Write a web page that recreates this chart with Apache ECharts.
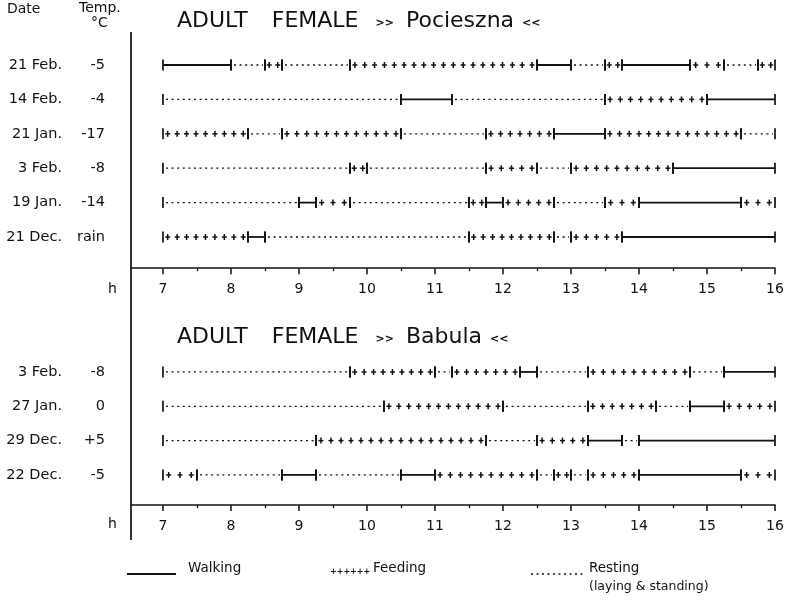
<!DOCTYPE html>
<html><head><meta charset="utf-8">
<script src="https://cdn.jsdelivr.net/npm/echarts@6/dist/echarts.min.js"></script>
<style>html,body{margin:0;padding:0;background:#fff}#c{width:788px;height:602px}</style>
</head><body><div id="c"></div>
<script>
// ---- data ----
const hourTicks = [7, 8, 9, 10, 11, 12, 13, 14, 15, 16];
const halfHourTicks = [7.5, 8.5, 9.5, 10.5, 11.5, 12.5, 13.5, 14.5, 15.5];

// activity codes: W = walking, F = feeding, R = resting
const pociesznaDates = ['21 Feb.', '14 Feb.', '21 Jan.', '3 Feb.', '19 Jan.', '21 Dec.'];
const pociesznaTemps = ['-5', '-4', '-17', '-8', '-14', 'rain'];
const pociesznaBreaks = [
  [7, 8, 8.5, 8.75, 9.75, 12.5, 13, 13.5, 13.75, 14.75, 15.25, 15.75, 16],
  [7, 10.5, 11.25, 13.5, 15, 16],
  [7, 8.25, 8.75, 10.5, 11.75, 12.75, 13.5, 15.5, 16],
  [7, 9.75, 10, 11.75, 12.5, 13, 14.5, 16],
  [7, 9, 9.25, 9.75, 11.5, 11.75, 12, 12.75, 13.5, 14, 15.5, 16],
  [7, 8.25, 8.5, 11.5, 12.75, 13, 13.75, 16]
];
const pociesznaActivities = ['WRFRFWRFWFRF', 'RWRFW', 'FRFRFWFR', 'RFRFRFW', 'RWFRFWFRFWF', 'FWRFRFW'];

const babulaDates = ['3 Feb.', '27 Jan.', '29 Dec.', '22 Dec.'];
const babulaTemps = ['-8', '0', '+5', '-5'];
const babulaBreaks = [
  [7, 9.75, 11, 11.25, 12.25, 12.5, 13.25, 14.75, 15.25, 16],
  [7, 10.25, 12, 13.25, 14.25, 14.75, 15.25, 16],
  [7, 9.25, 11.75, 12.5, 13.25, 13.75, 14, 16],
  [7, 7.5, 8.75, 9.25, 10.5, 11, 12.5, 12.75, 13, 13.25, 14, 15.5, 16]
];
const babulaActivities = ['RFRFWRFRW', 'RFRFRWF', 'RFRFWRW', 'FRWRWFRFRFWF'];

// ---- build ----
const actCode = { W: 0, F: 1, R: 2 };
function toSegments(breaks, acts) {
  const out = [];
  breaks.forEach((b, row) => {
    for (let k = 0; k < b.length - 1; k++) out.push([b[k], b[k + 1], row, actCode[acts[row][k]]]);
  });
  return out;
}
const INK = '#111111';
const FONT = 'DejaVu Sans';

function renderSeg(params, api) {
  const s = api.coord([api.value(0), api.value(2)]);
  const e = api.coord([api.value(1), api.value(2)]);
  const act = api.value(3);
  const y = s[1], x1 = s[0], x2 = e[0];
  const ch = [];
  if (act === 0) {
    ch.push({ type: 'line', shape: { x1: x1, y1: y, x2: x2, y2: y }, style: { stroke: INK, lineWidth: 1.8 } });
  } else if (act === 2) {
    ch.push({ type: 'line', shape: { x1: x1 + 3, y1: y, x2: x2 - 2, y2: y }, style: { stroke: INK, lineWidth: 1.3, lineDash: [2, 3.6] } });
  } else {
    const n = Math.max(1, Math.round((x2 - x1) / 9.8));
    const step = (x2 - x1) / n;
    for (let k = 0; k < n; k++) {
      const cx = x1 + step * (k + 0.5);
      ch.push({ type: 'line', shape: { x1: cx - 2.5, y1: y, x2: cx + 2.5, y2: y }, style: { stroke: INK, lineWidth: 1.5 } });
      ch.push({ type: 'line', shape: { x1: cx, y1: y - 3, x2: cx, y2: y + 3 }, style: { stroke: INK, lineWidth: 1.5 } });
    }
  }
  ch.push({ type: 'line', shape: { x1: x1, y1: y - 5.5, x2: x1, y2: y + 5.5 }, style: { stroke: INK, lineWidth: 1.7 } });
  ch.push({ type: 'line', shape: { x1: x2, y1: y - 5.5, x2: x2, y2: y + 5.5 }, style: { stroke: INK, lineWidth: 1.7 } });
  return { type: 'group', children: ch };
}

function xAxes(gridIndex, offset) {
  return [
    { gridIndex, type: 'value', position: 'bottom', min: 6.53, max: 16, offset,
      axisLine: { show: true, lineStyle: { color: INK, width: 1.7 } },
      axisTick: { show: true, customValues: hourTicks, length: 6, lineStyle: { color: INK, width: 1.5 } },
      axisLabel: { customValues: hourTicks, margin: 14, fontSize: 14, color: INK, fontFamily: FONT },
      splitLine: { show: false } },
    { gridIndex, type: 'value', position: 'bottom', min: 6.53, max: 16, offset,
      axisLine: { show: false },
      axisTick: { show: true, customValues: halfHourTicks, length: 3, lineStyle: { color: INK, width: 1.3 } },
      axisLabel: { show: false }, splitLine: { show: false } }
  ];
}
function yAxes(gridIndex, dates, temps) {
  return [
    { gridIndex, type: 'category', data: dates, inverse: true, position: 'left',
      axisLine: { show: false }, axisTick: { show: false }, splitLine: { show: false },
      axisLabel: { margin: 69, fontSize: 14.5, color: INK, fontFamily: FONT } },
    { gridIndex, type: 'category', data: temps, inverse: true, position: 'left',
      axisLine: { show: false }, axisTick: { show: false }, splitLine: { show: false },
      axisLabel: { margin: 26, fontSize: 14.5, color: INK, fontFamily: FONT } }
  ];
}

function titleText(name) {
  return '{t|ADULT}{g|  }{t|FEMALE}{g2|  }{s1|>>}{t|' + name + '}{s2|<<}';
}
const titleRich = {
  t: { fontSize: 22, fontFamily: FONT, fill: INK },
  g: { width: 24 },
  g2: { width: 17 },
  s1: { fontSize: 11, fontFamily: FONT, fill: INK, fontWeight: 'bold', padding: [4, 12, 0, 0] },
  s2: { fontSize: 11, fontFamily: FONT, fill: INK, fontWeight: 'bold', padding: [4, 0, 0, 8] }
};

const chart = echarts.init(document.getElementById('c'), null, { renderer: 'canvas' });
chart.setOption({
  animation: false,
  backgroundColor: '#fff',
  grid: [
    { left: 131, width: 644, top: 47.8, height: 206.4 },
    { left: 131, width: 644, top: 354.8, height: 137.3 }
  ],
  xAxis: [...xAxes(0, 14), ...xAxes(1, 13)],
  yAxis: [...yAxes(0, pociesznaDates, pociesznaTemps), ...yAxes(1, babulaDates, babulaTemps)],
  series: [
    { type: 'custom', name: 'Pocieszna', xAxisIndex: 0, yAxisIndex: 0, renderItem: renderSeg,
      encode: { x: [0, 1], y: 2 }, data: toSegments(pociesznaBreaks, pociesznaActivities), clip: false },
    { type: 'custom', name: 'Babula', xAxisIndex: 2, yAxisIndex: 2, renderItem: renderSeg,
      encode: { x: [0, 1], y: 2 }, data: toSegments(babulaBreaks, babulaActivities), clip: false }
  ],
  graphic: [
    { type: 'line', shape: { x1: 131, y1: 32, x2: 131, y2: 540 }, style: { stroke: INK, lineWidth: 1.7 } },
    { type: 'text', left: 7, top: 2, style: { text: 'Date', fontSize: 14, fontFamily: FONT, fill: INK } },
    { type: 'text', left: 79, top: 1, style: { text: 'Temp.', fontSize: 14, fontFamily: FONT, fill: INK } },
    { type: 'text', left: 91, top: 16, style: { text: '°C', fontSize: 14, fontFamily: FONT, fill: INK } },
    { type: 'text', left: 177, top: 10, style: { text: titleText('Pocieszna'), rich: titleRich } },
    { type: 'text', left: 177, top: 326, style: { text: titleText('Babula'), rich: titleRich } },
    { type: 'text', left: 108, top: 282, style: { text: 'h', fontSize: 14, fontFamily: FONT, fill: INK } },
    { type: 'text', left: 108, top: 517, style: { text: 'h', fontSize: 14, fontFamily: FONT, fill: INK } },
    // legend
    { type: 'line', shape: { x1: 127, y1: 574, x2: 176, y2: 574 }, style: { stroke: INK, lineWidth: 1.9 } },
    { type: 'text', left: 188, top: 561, style: { text: 'Walking', fontSize: 13.5, fontFamily: FONT, fill: INK } },
    { type: 'text', left: 330, top: 568, style: { text: '++++++', fontSize: 8, fontFamily: FONT, fill: INK, fontWeight: 'bold' } },
    { type: 'text', left: 373, top: 561, style: { text: 'Feeding', fontSize: 13.5, fontFamily: FONT, fill: INK } },
    { type: 'line', shape: { x1: 531, y1: 574, x2: 586, y2: 574 }, style: { stroke: INK, lineWidth: 1.5, lineDash: [2, 3.5] } },
    { type: 'text', left: 589, top: 561, style: { text: 'Resting', fontSize: 13.5, fontFamily: FONT, fill: INK } },
    { type: 'text', left: 589, top: 580, style: { text: '(laying & standing)', fontSize: 12.5, fontFamily: FONT, fill: INK } }
  ]
});
</script></body></html>
